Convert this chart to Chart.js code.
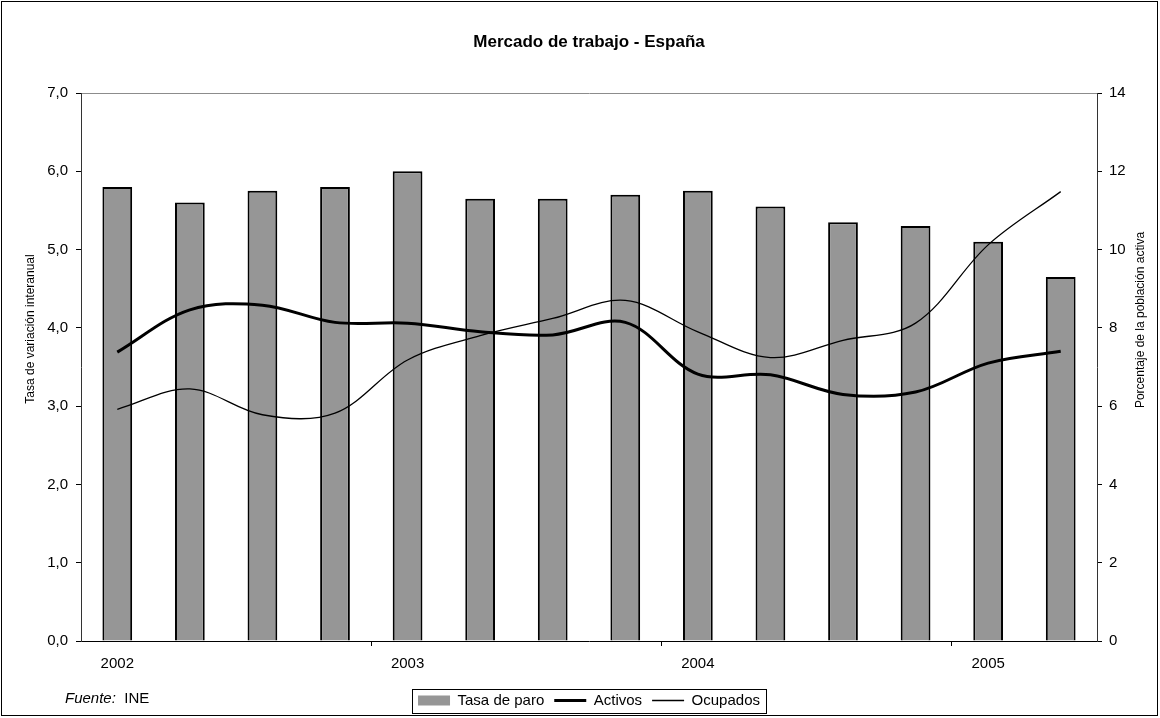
<!DOCTYPE html>
<html lang="es">
<head>
<meta charset="utf-8">
<title>Mercado de trabajo - España</title>
<script src="https://cdn.jsdelivr.net/npm/chart.js@4.4.1/dist/chart.umd.min.js"></script>
<style>
  html, body { margin: 0; padding: 0; background: #fff; }
  #wrap { position: relative; width: 1160px; height: 718px; }
  #grafico { display: block; }
  #fuente { position: absolute; left: 65px; top: 689px; font: 15px "Liberation Sans", Arial, sans-serif; color: #000; }
</style>
</head>
<body>
<div id="wrap">
  <canvas id="grafico" width="1160" height="718"></canvas>
  <div id="fuente"><i>Fuente:</i>&nbsp; INE</div>
</div>
<script>
// datos (trimestrales, 2002-I a 2005-II)
const categorias = ['2002', '', '', '', '2003', '', '', '', '2004', '', '', '', '2005', ''];
const tasaParo = [11.6, 11.2, 11.5, 11.6, 12.0, 11.3, 11.3, 11.4, 11.5, 11.1, 10.7, 10.6, 10.2, 9.3];
const activos = [3.69, 4.23, 4.29, 4.07, 4.06, 3.95, 3.91, 4.07, 3.41, 3.40, 3.15, 3.18, 3.55, 3.70];
const ocupados = [2.96, 3.22, 2.89, 2.91, 3.59, 3.90, 4.12, 4.35, 3.95, 3.62, 3.84, 4.06, 5.06, 5.74];

const titulo = 'Mercado de trabajo - España';
const tituloIzq = 'Tasa de variación interanual';
const tituloDer = 'Porcentaje de la población activa';

const fuente = '"Liberation Sans", Arial, sans-serif';

// rótulos de ejes girados, marco del gráfico y recuadro de la leyenda
const extras = {
    id: 'extras',
    afterDraw(chart) {
        const ctx = chart.ctx;
        ctx.save();
        ctx.font = '12px ' + fuente;
        ctx.fillStyle = '#000';
        ctx.textAlign = 'center';
        ctx.textBaseline = 'middle';
        [[tituloIzq, 31, 329], [tituloDer, 1141, 320]].forEach(([t, x, y]) => {
            ctx.save();
            ctx.translate(x, y);
            ctx.rotate(-Math.PI / 2);
            ctx.fillText(t, 0, 0);
            ctx.restore();
        });

        const hb = chart.legend.legendHitBoxes;
        if (hb && hb.length) {
            const last = hb[hb.length - 1];
            const cy = hb[0].top + hb[0].height / 2;
            ctx.strokeStyle = '#000';
            ctx.lineWidth = 1;
            ctx.strokeRect(Math.round(hb[0].left - 6) + 0.5, Math.round(cy - 12) + 0.5,
                Math.round(last.left + last.width + 6 - (hb[0].left - 6)), 24);
        }

        ctx.strokeStyle = '#000';
        ctx.lineWidth = 1;
        ctx.strokeRect(1.5, 1.5, 1156, 714);
        ctx.restore();
    }
};

new Chart(document.getElementById('grafico'), {
    type: 'bar',
    data: {
        labels: categorias,
        datasets: [
            {
                type: 'bar', label: 'Tasa de paro', data: tasaParo, yAxisID: 'y1', order: 2,
                backgroundColor: '#969696', borderColor: '#000', borderWidth: 2,
                barPercentage: 0.41, categoryPercentage: 1
            },
            {
                type: 'line', label: 'Activos', data: activos, yAxisID: 'y', order: 1,
                borderColor: '#000', borderWidth: 3, pointRadius: 0, tension: 0.35, fill: false
            },
            {
                type: 'line', label: 'Ocupados', data: ocupados, yAxisID: 'y', order: 0,
                borderColor: '#000', borderWidth: 1.3, pointRadius: 0, tension: 0.35, fill: false
            }
        ]
    },
    options: {
        responsive: false,
        animation: false,
        layout: { padding: { left: 18, right: 0, top: 0, bottom: 0 } },
        scales: {
            x: {
                offset: true,
                grid: {
                    offset: true, drawOnChartArea: false, tickLength: 5,
                    tickColor: c => (c.index > 0 && c.index % 4 === 0) ? '#000' : 'rgba(0,0,0,0)'
                },
                border: { color: '#000', width: 1 },
                ticks: { autoSkip: false, maxRotation: 0, padding: 9, color: '#000', font: { family: fuente, size: 15 } },
                afterFit: s => { s.height = 42; }
            },
            y: {
                position: 'left', min: 0, max: 7,
                ticks: {
                    stepSize: 1, padding: 8, color: '#000', font: { family: fuente, size: 15 },
                    callback: v => v.toFixed(1).replace('.', ',')
                },
                grid: {
                    color: c => (c.tick && c.tick.value === 7) ? '#8c8c8c' : 'rgba(0,0,0,0)',
                    tickColor: '#000', tickLength: 5
                },
                border: { color: '#333', width: 1 },
                afterFit: s => { s.width = 63; }
            },
            y1: {
                position: 'right', min: 0, max: 14,
                ticks: { stepSize: 2, padding: 7, color: '#000', font: { family: fuente, size: 15 } },
                grid: { drawOnChartArea: false, tickColor: '#000', tickLength: 5 },
                border: { color: '#333', width: 1 },
                afterFit: s => { s.width = 63; }
            }
        },
        plugins: {
            title: {
                display: true, text: titulo, color: '#000',
                font: { family: fuente, size: 17, weight: 'bold' },
                padding: { top: 32, bottom: 40.6 }
            },
            legend: {
                position: 'bottom',
                labels: {
                    usePointStyle: true, pointStyleWidth: 32, boxHeight: 10,
                    padding: 10, color: '#000', font: { family: fuente, size: 15 },
                    generateLabels: chart => chart.data.datasets.map((ds, i) => ({
                        text: ds.label,
                        datasetIndex: i,
                        fillStyle: ds.type === 'bar' ? '#969696' : 'rgba(0,0,0,0)',
                        strokeStyle: ds.type === 'bar' ? '#969696' : '#000',
                        lineWidth: ds.type === 'bar' ? 0 : ds.borderWidth,
                        pointStyle: ds.type === 'bar' ? 'rect' : 'line',
                        fontColor: '#000',
                        hidden: false
                    }))
                }
            },
            tooltip: { enabled: false }
        }
    },
    plugins: [extras]
});
</script>
</body>
</html>
